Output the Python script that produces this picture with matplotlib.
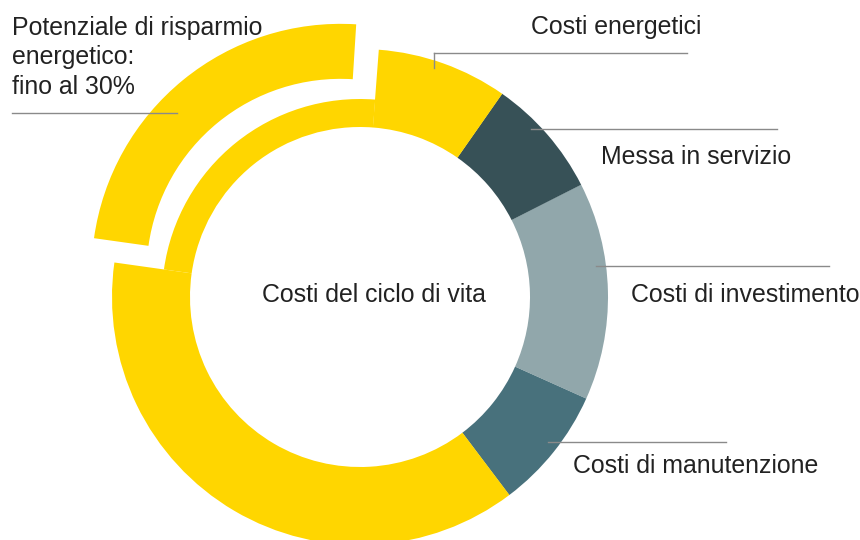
import numpy as np
import matplotlib.pyplot as plt
from matplotlib.patches import Wedge

plt.rcParams['font.family'] = ['Liberation Sans', 'DejaVu Sans']

# share of the ring, percent, counter-clockwise from the lower right
segments = ['Costi di manutenzione', 'Costi di investimento', 'Messa in servizio',
            'Costi energetici', 'Potenziale di risparmio', 'Costi energetici (resto)']
shares = [8.0, 14.2, 7.8, 8.5, 24.0, 37.5]
colors = ['#48717c', '#91a7ab', '#375157', '#ffd600', '#ffd600', '#ffd600']
start_angle = -53.0

# labels: text, text x, baseline y, leader line (x0, x1, y)
labels = ['Costi energetici', 'Messa in servizio', 'Costi di investimento', 'Costi di manutenzione']
label_x = [531, 601, 631, 573]
label_y = [34, 164, 302, 473]
lead_x0 = [434, 531, 596, 548]
lead_x1 = [687, 777, 829, 726]
lead_y = [53, 129, 266, 442]

left_lines = ['Potenziale di risparmio', 'energetico:', 'fino al 30%']
left_y = [35, 64, 94]

W, H = 860, 540
cx, cy = 360, H - 297
r_out, r_in, r_mid = 248, 170, 198
fs = 17.9

fig = plt.figure(figsize=(W / 100, H / 100), dpi=100)
ax = fig.add_axes([0, 0, 1, 1])
ax.set_xlim(0, W)
ax.set_ylim(0, H)
ax.set_aspect('equal')
ax.axis('off')

angles = start_angle + np.concatenate([[0], np.cumsum(shares)]) * 3.6
for i, name in enumerate(segments):
    a0, a1 = angles[i], angles[i + 1]
    if name == 'Potenziale di risparmio':
        # thin remaining ring + exploded outer piece
        ax.add_patch(Wedge((cx, cy), r_mid, a0, a1, width=r_mid - r_in,
                           facecolor=colors[i], edgecolor='none'))
        mid = np.deg2rad((a0 + a1) / 2)
        off = 31
        ox, oy = cx + off * np.cos(mid), cy + off * np.sin(mid)
        ax.add_patch(Wedge((ox, oy), 249, a0 + 0.8, a1, width=55,
                           facecolor=colors[i], edgecolor='none'))
    else:
        ax.add_patch(Wedge((cx, cy), r_out, a0, a1 + 0.05, width=r_out - r_in,
                           facecolor=colors[i], edgecolor='none'))

ax.text(374, H - 302, 'Costi del ciclo di vita', fontsize=fs, color='#222222',
        ha='center', va='baseline')

for t, x, y, x0, x1, ly in zip(labels, label_x, label_y, lead_x0, lead_x1, lead_y):
    ax.text(x, H - y, t, fontsize=fs, color='#222222', ha='left', va='baseline')
    ax.plot([x0, x1], [H - ly, H - ly], color='#8a8a8a', lw=1.0)
# small tick on the first leader line
ax.plot([lead_x0[0], lead_x0[0]], [H - lead_y[0], H - lead_y[0] - 15], color='#8a8a8a', lw=1.0)

for t, y in zip(left_lines, left_y):
    ax.text(12, H - y, t, fontsize=fs, color='#222222', ha='left', va='baseline')
ax.plot([12, 177], [H - 113, H - 113], color='#8a8a8a', lw=1.0)

fig.savefig('out.png', dpi=100)
